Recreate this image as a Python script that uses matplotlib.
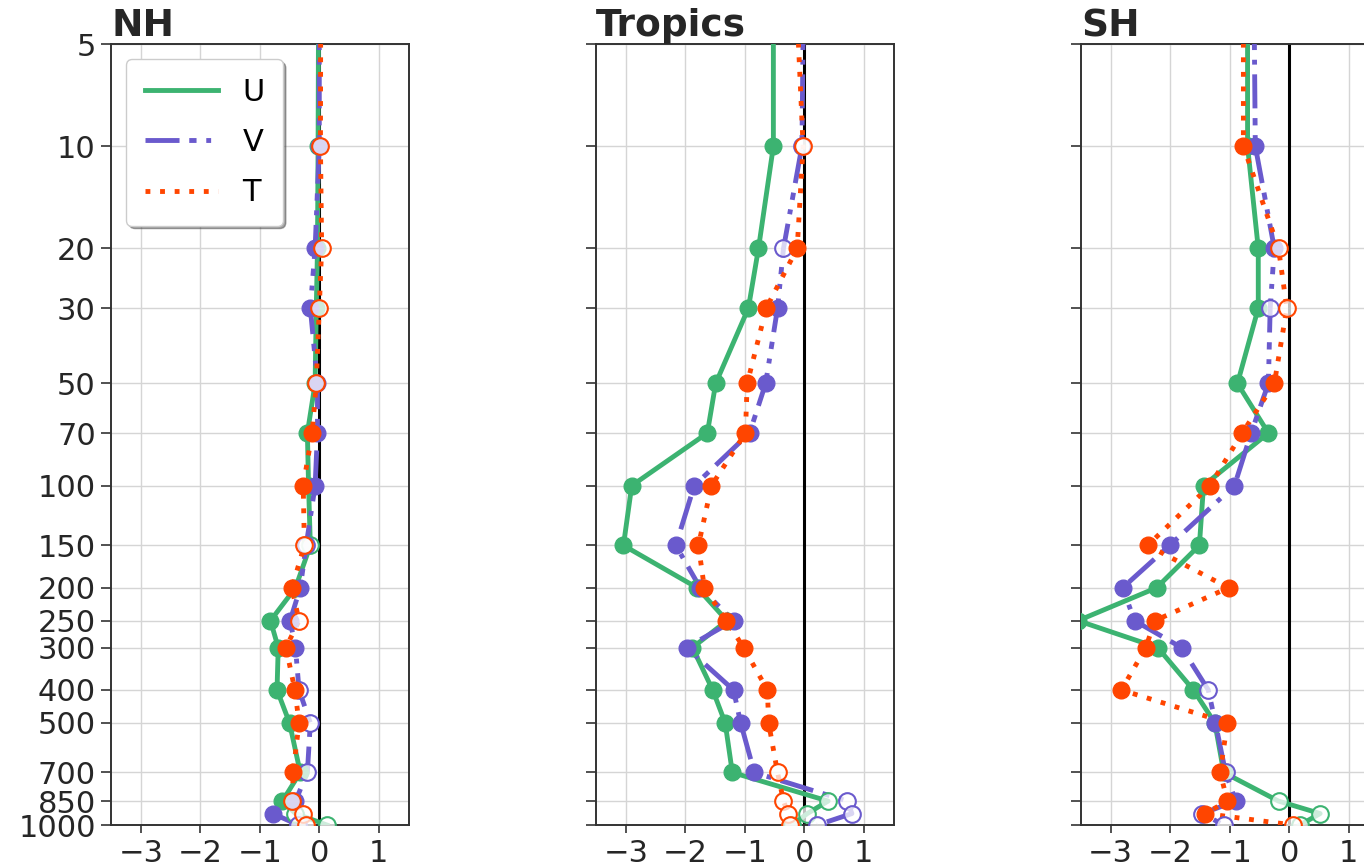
import numpy as np
import matplotlib
matplotlib.use("Agg")
import matplotlib.pyplot as plt
from matplotlib.ticker import FixedLocator, NullLocator, FixedFormatter

# pressure levels (hPa); the 1 hPa point only carries the line up past the top edge
levels = [1, 10, 20, 30, 50, 70, 100, 150, 200, 250, 300, 400, 500, 700, 850, 925, 1000]

NH_U = [0.0, -0.02, -0.03, -0.05, -0.07, -0.2, -0.18, -0.15, -0.4, -0.82, -0.69, -0.71, -0.5, -0.32, -0.62, -0.4, 0.13]
NH_U_sig = [1, 1, 1, 1, 1, 1, 1, 0, 1, 1, 1, 1, 1, 1, 1, 0, 0]
NH_V = [0.0, 0.0, -0.07, -0.15, -0.03, -0.03, -0.07, -0.22, -0.32, -0.49, -0.4, -0.34, -0.15, -0.2, -0.4, -0.78, -0.35]
NH_V_sig = [1, 1, 1, 1, 1, 1, 1, 0, 1, 1, 1, 0, 0, 0, 1, 1, 0]
NH_T = [0.03, 0.02, 0.04, 0.0, -0.05, -0.12, -0.27, -0.25, -0.46, -0.34, -0.56, -0.41, -0.34, -0.44, -0.45, -0.27, -0.23]
NH_T_sig = [0, 0, 0, 0, 0, 1, 1, 0, 1, 0, 1, 1, 1, 1, 0, 0, 0]

TR_U = [-0.52, -0.52, -0.77, -0.94, -1.49, -1.63, -2.9, -3.04, -1.8, -1.3, -1.88, -1.54, -1.33, -1.21, 0.4, 0.05, -0.2]
TR_U_sig = [1, 1, 1, 1, 1, 1, 1, 1, 1, 1, 1, 1, 1, 1, 0, 0, 0]
TR_V = [0.02, -0.04, -0.35, -0.45, -0.65, -0.92, -1.85, -2.16, -1.75, -1.19, -1.98, -1.19, -1.07, -0.84, 0.72, 0.8, 0.22]
TR_V_sig = [1, 0, 0, 1, 1, 1, 1, 1, 1, 1, 1, 1, 1, 1, 0, 0, 0]
TR_T = [-0.28, -0.02, -0.12, -0.64, -0.96, -0.99, -1.56, -1.78, -1.68, -1.31, -1.02, -0.62, -0.6, -0.45, -0.35, -0.27, -0.24]
TR_T_sig = [0, 0, 1, 1, 1, 1, 1, 1, 1, 1, 1, 1, 1, 0, 0, 0, 0]

SH_U = [-0.7, -0.7, -0.52, -0.52, -0.87, -0.35, -1.44, -1.51, -2.23, -3.55, -2.21, -1.61, -1.25, -1.1, -0.18, 0.52, 0.18]
SH_U_sig = [1, 1, 1, 1, 1, 1, 1, 1, 1, 1, 1, 1, 1, 1, 0, 0, 0]
SH_V = [-0.62, -0.57, -0.25, -0.32, -0.35, -0.64, -0.92, -2.01, -2.8, -2.6, -1.81, -1.36, -1.24, -1.07, -0.9, -1.46, -1.1]
SH_V_sig = [1, 1, 1, 0, 1, 1, 1, 1, 1, 1, 1, 0, 1, 0, 1, 0, 0]
SH_T = [-0.77, -0.77, -0.18, -0.04, -0.25, -0.79, -1.33, -2.38, -1.02, -2.26, -2.41, -2.82, -1.04, -1.16, -1.04, -1.41, 0.07]
SH_T_sig = [1, 1, 0, 0, 1, 1, 1, 1, 1, 1, 1, 1, 1, 1, 1, 1, 0]

panels = [
    ("NH", [(NH_U, NH_U_sig), (NH_V, NH_V_sig), (NH_T, NH_T_sig)]),
    ("Tropics", [(TR_U, TR_U_sig), (TR_V, TR_V_sig), (TR_T, TR_T_sig)]),
    ("SH", [(SH_U, SH_U_sig), (SH_V, SH_V_sig), (SH_T, SH_T_sig)]),
]
var_names = ["U", "V", "T"]
colors = ["#3cb371", "#6a5acd", "#ff4500"]
dashes = [None, (7, 2, 1.5, 2, 1, 2), (1, 2.0)]

yticks = [5, 10, 20, 30, 50, 70, 100, 150, 200, 250, 300, 400, 500, 700, 850, 1000]
xticks = [-3, -2, -1, 0, 1]
dark = "#262626"

fig = plt.figure(figsize=(13.64, 8.67), dpi=100)
lefts = [0.0814, 0.437, 0.7925]
lev = np.array(levels)

for i, (title, series) in enumerate(panels):
    ax = fig.add_axes([lefts[i], 0.0484, 0.2181, 0.9008])
    ax.set_yscale("log")
    ax.set_ylim(1000, 5)
    ax.set_xlim(-3.5, 1.5)
    ax.grid(True, color="#d5d5d5", lw=1.0, zorder=0)
    ax.axvline(0, color="black", lw=2.2, zorder=2)

    for name, col, ds, (vals, sig) in zip(var_names, colors, dashes, series):
        x = np.array(vals)
        s = np.array(sig, dtype=bool)
        line, = ax.plot(x, lev, color=col, lw=3.5, label=name, zorder=3)
        if ds is not None:
            line.set_dashes(ds)
        ax.plot(x[s], lev[s], "o", ms=12, color=col, zorder=4)
        ax.plot(x[~s], lev[~s], "o", ms=12, mfc=(1, 1, 1, 0.75), mec=col,
                mew=1.5, zorder=4)

    ax.yaxis.set_major_locator(FixedLocator(yticks))
    ax.yaxis.set_minor_locator(NullLocator())
    if i == 0:
        ax.yaxis.set_major_formatter(FixedFormatter([str(t) for t in yticks]))
    else:
        ax.set_yticklabels([])
    ax.set_xticks(xticks)
    ax.set_xticklabels(["\u2212" + str(-t) if t < 0 else str(t) for t in xticks])
    ax.tick_params(axis="y", length=7, width=1.2, pad=4, labelsize=22,
                   colors="#333333", labelcolor=dark)
    ax.tick_params(axis="x", length=6, width=1.2, pad=4, labelsize=22,
                   colors="#333333", labelcolor=dark)
    for sp in ax.spines.values():
        sp.set_color("#333333")
        sp.set_linewidth(1.4)
    ax.set_title(title, loc="left", fontsize=27, fontweight="bold",
                 color=dark, pad=5)

    if i == 0:
        leg = ax.legend(loc="upper left", fontsize=22, handlelength=2.4,
                        frameon=True, shadow=True, fancybox=True,
                        borderpad=0.6, labelspacing=0.7, handletextpad=0.8)
        leg.get_frame().set_edgecolor("#cccccc")

fig.savefig("out.png", dpi=100)
